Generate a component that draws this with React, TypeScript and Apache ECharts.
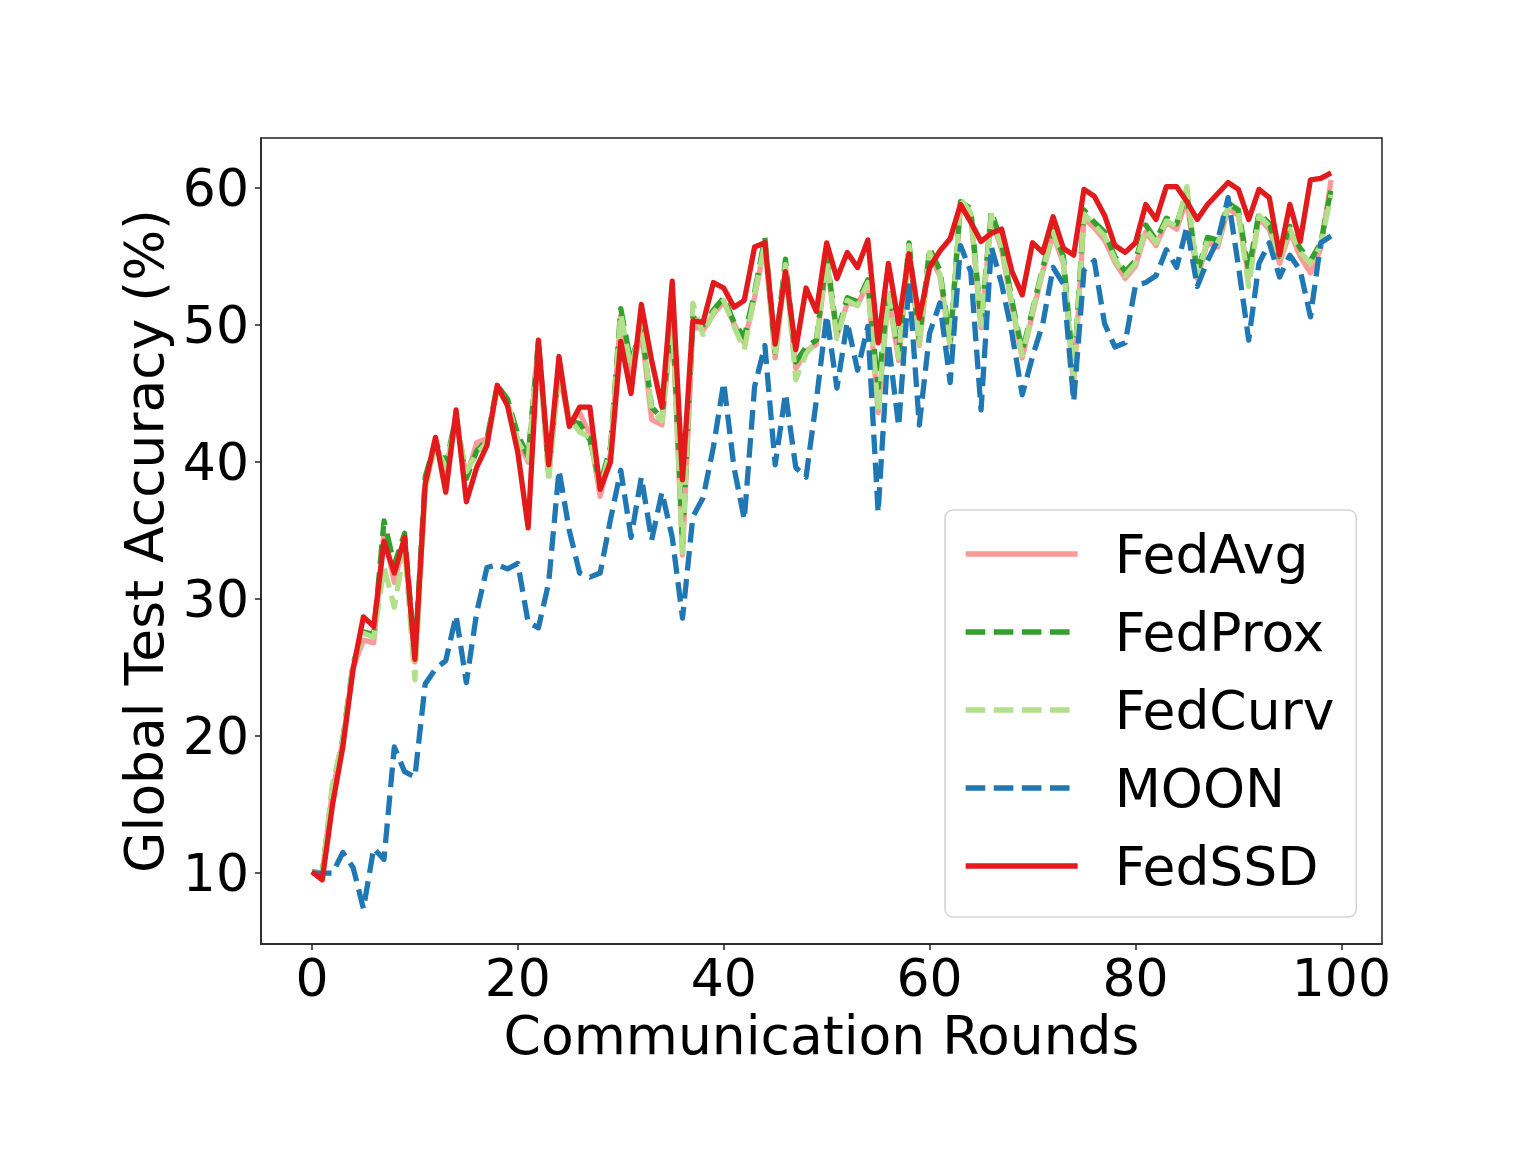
import React, { useEffect, useRef } from "react";
import * as echarts from "echarts";

const xTicks = [0, 20, 40, 60, 80, 100];
const yTicks = [10, 20, 30, 40, 50, 60];

const fedAvg = [
  10.1, 10.0, 16.0, 19.6, 25.0, 27.0, 26.8, 34.8, 31.2, 34.4,
  25.4, 38.3, 41.3, 39.3, 43.0, 38.9, 41.4, 41.7, 45.4, 44.2,
  41.6, 40.0, 48.9, 39.0, 46.6, 42.8, 43.6, 42.0, 37.5, 40.6,
  50.7, 46.3, 49.6, 43.1, 42.7, 50.6, 33.2, 50.0, 49.6, 50.8,
  51.7, 50.1, 48.7, 52.0, 55.9, 47.6, 54.2, 46.8, 48.1, 48.6,
  54.6, 49.2, 51.6, 51.5, 53.0, 43.6, 52.2, 47.4, 55.6, 48.5,
  55.1, 53.6, 48.4, 58.6, 58.0, 49.8, 57.8, 55.5, 51.4, 47.6,
  50.8, 53.9, 56.6, 54.5, 45.5, 57.8, 57.1, 56.2, 54.6, 53.4,
  54.3, 56.8, 55.8, 57.5, 57.0, 59.2, 53.4, 56.0, 55.7, 58.5,
  58.0, 53.5, 57.8, 57.0, 54.5, 56.8, 55.0, 53.8, 55.6, 60.6,
];

const fedProx = [
  10.1, 10.0, 16.2, 19.8, 25.3, 27.6, 27.4, 35.7, 32.5, 34.8,
  25.8, 38.9, 41.5, 39.8, 43.3, 38.8, 40.8, 41.6, 45.6, 44.6,
  42.0, 40.4, 48.8, 39.4, 47.0, 43.0, 42.8, 41.6, 38.4, 41.1,
  51.2, 47.2, 50.0, 44.0, 43.2, 51.0, 34.1, 50.6, 50.0, 51.1,
  52.0, 50.2, 49.1, 52.4, 56.4, 48.0, 54.8, 47.3, 48.4, 48.9,
  55.0, 49.4, 52.0, 51.7, 53.3, 45.4, 52.6, 48.0, 56.0, 48.9,
  55.6, 54.0, 48.8, 59.0, 58.5, 50.2, 58.3, 56.0, 51.8, 48.1,
  51.1, 54.2, 57.0, 55.0, 46.3, 58.4, 57.5, 56.8, 55.0, 53.9,
  54.7, 57.3, 56.2, 57.8, 57.4, 59.6, 53.8, 56.4, 56.2, 58.9,
  58.4, 54.0, 58.2, 57.4, 55.0, 57.2, 55.6, 54.7, 56.0, 59.9,
];

const fedCurv = [
  10.1, 10.0, 16.5, 19.7, 25.2, 27.5, 27.2, 32.3, 29.4, 33.8,
  24.1, 38.0, 41.2, 39.6, 43.0, 39.3, 40.6, 41.4, 45.3, 44.4,
  41.5, 40.2, 48.5, 38.7, 46.8, 43.2, 42.2, 41.8, 38.0, 40.9,
  50.8, 46.8, 50.2, 43.8, 43.0, 50.8, 33.4, 51.6, 49.3, 50.9,
  51.8, 49.9, 48.2, 52.2, 56.0, 47.7, 54.4, 46.0, 47.9, 48.8,
  54.8, 49.0, 51.8, 51.4, 53.1, 43.8, 52.3, 47.6, 55.8, 48.6,
  55.3, 53.7, 48.5, 59.2, 58.2, 50.0, 58.0, 55.7, 51.5, 47.8,
  51.0, 54.0, 56.8, 54.6, 46.0, 58.1, 57.3, 56.5, 54.8, 53.6,
  54.5, 57.0, 56.0, 57.6, 57.2, 60.1, 53.6, 56.2, 55.9, 58.7,
  58.2, 52.8, 58.0, 57.2, 54.8, 57.0, 55.3, 54.5, 55.8, 59.5,
];

const moon = [
  10.0, 10.0, 10.0, 11.5, 10.4, 7.4, 11.8, 11.0, 19.2, 17.4,
  17.0, 23.8, 24.9, 25.5, 28.8, 23.9, 29.0, 32.3, 32.5, 32.2,
  32.6, 28.3, 27.9, 31.2, 39.4, 35.0, 31.9, 31.6, 31.9, 35.8,
  39.4, 34.5, 38.9, 34.3, 37.8, 34.5, 28.6, 36.0, 37.4, 41.1,
  45.8, 39.6, 35.8, 45.5, 48.5, 39.8, 45.0, 39.6, 38.9, 44.5,
  50.7, 45.4, 50.2, 46.7, 49.9, 36.3, 48.7, 42.6, 53.1, 42.7,
  49.4, 51.6, 45.8, 55.8, 53.9, 43.8, 55.7, 53.0, 49.4, 44.9,
  47.7, 50.1, 54.2, 53.0, 44.4, 54.0, 54.7, 50.1, 48.4, 48.7,
  52.9, 53.1, 53.6, 55.5, 54.2, 57.2, 52.8, 54.7, 56.2, 59.3,
  54.3, 48.9, 54.5, 56.0, 53.5, 55.1, 54.0, 50.6, 56.0, 56.5,
];

const fedSSD = [
  10.1, 9.5, 15.0, 19.2, 24.9, 28.7, 28.0, 34.2, 31.9, 34.5,
  25.6, 38.4, 41.8, 37.8, 43.8, 37.1, 39.6, 41.2, 45.6, 44.1,
  40.7, 35.2, 48.9, 39.8, 47.7, 42.6, 44.0, 44.0, 38.0, 40.0,
  48.8, 45.0, 51.5, 47.4, 44.0, 53.2, 38.7, 50.3, 50.2, 53.1,
  52.7, 51.3, 51.8, 55.7, 56.0, 48.6, 53.9, 48.2, 52.7, 51.0,
  56.0, 53.4, 55.3, 54.2, 56.2, 48.7, 54.5, 50.1, 55.2, 50.5,
  54.2, 55.4, 56.3, 58.8, 57.5, 56.1, 56.7, 57.0, 53.9, 52.2,
  56.0, 55.3, 57.9, 55.6, 55.1, 59.9, 59.4, 58.0, 55.8, 55.3,
  56.0, 58.8, 57.7, 60.1, 60.1, 59.0, 57.7, 58.8, 59.6, 60.4,
  59.9, 57.7, 59.9, 59.3, 55.1, 58.8, 56.1, 60.6, 60.7, 61.1,
];

const FONT = "DejaVu Sans";
const LW = 5.3;
const DASH = [19.6, 8.5];

function toPoints(values: number[]) {
  return values.map((v, i) => [i, v]);
}

export default function App() {
  const ref = useRef<HTMLDivElement>(null);
  useEffect(() => {
    if (!ref.current) return;
    const chart = echarts.init(ref.current, undefined, { renderer: "svg" });
    const mk = (name: string, data: number[], color: string, dashed: boolean) => ({
      name,
      type: "line",
      data: toPoints(data),
      symbol: "none",
      showSymbol: false,
      lineStyle: { color, width: LW, type: dashed ? DASH : "solid", cap: "butt", join: "round" },
      itemStyle: { color },
      emphasis: { disabled: true },
    });
    chart.setOption({
      animation: false,
      backgroundColor: "#ffffff",
      grid: {
        left: 261,
        right: 154,
        top: 138,
        bottom: 208,
        show: true,
        borderColor: "#222",
        borderWidth: 1.5,
        backgroundColor: "transparent",
      },
      legend: {
        orient: "vertical",
        left: 945,
        top: 510,
        padding: [17, 22, 24, 18],
        itemWidth: 112,
        itemHeight: 52,
        itemGap: 24,
        backgroundColor: "rgba(255,255,255,0.8)",
        borderColor: "#d4d4d4",
        borderWidth: 1.5,
        borderRadius: 8,
        itemStyle: { opacity: 0 },
        lineStyle: { width: LW },
        textStyle: {
          fontFamily: FONT,
          fontSize: 53.5,
          color: "#000",
          lineHeight: 52,
          padding: [0, 0, 0, 32],
        },
        data: ["FedAvg", "FedProx", "FedCurv", "MOON", "FedSSD"],
      },
      xAxis: {
        type: "value",
        min: -4.95,
        max: 103.95,
        name: "Communication Rounds",
        nameLocation: "middle",
        nameGap: 62,
        nameTextStyle: { fontFamily: FONT, fontSize: 53.5, color: "#000" },
        axisLine: { show: true, onZero: false, lineStyle: { color: "#222", width: 1.5 } },
        axisTick: { show: true, length: 6, lineStyle: { color: "#222", width: 1.5 }, customValues: xTicks },
        axisLabel: { fontFamily: FONT, fontSize: 52, color: "#000", margin: 8, customValues: xTicks },
        splitLine: { show: false },
      },
      yAxis: {
        type: "value",
        min: 4.82,
        max: 63.65,
        name: "Global Test Accuracy (%)",
        nameLocation: "middle",
        nameGap: 86,
        nameTextStyle: { fontFamily: FONT, fontSize: 53.5, color: "#000" },
        axisLine: { show: true, onZero: false, lineStyle: { color: "#222", width: 1.5 } },
        axisTick: { show: true, length: 6, lineStyle: { color: "#222", width: 1.5 }, customValues: yTicks },
        axisLabel: { fontFamily: FONT, fontSize: 52, color: "#000", margin: 12, customValues: yTicks },
        splitLine: { show: false },
      },
      series: [
        mk("FedAvg", fedAvg, "#fb9a99", false),
        mk("FedProx", fedProx, "#33a02c", true),
        mk("FedCurv", fedCurv, "#b2df8a", true),
        mk("MOON", moon, "#1f78b4", true),
        mk("FedSSD", fedSSD, "#e31a1c", false),
      ],
    });
    return () => chart.dispose();
  }, []);
  return (
    <div
      ref={ref}
      style={{ position: "absolute", left: 0, top: 0, width: 1536, height: 1152 }}
    />
  );
}
